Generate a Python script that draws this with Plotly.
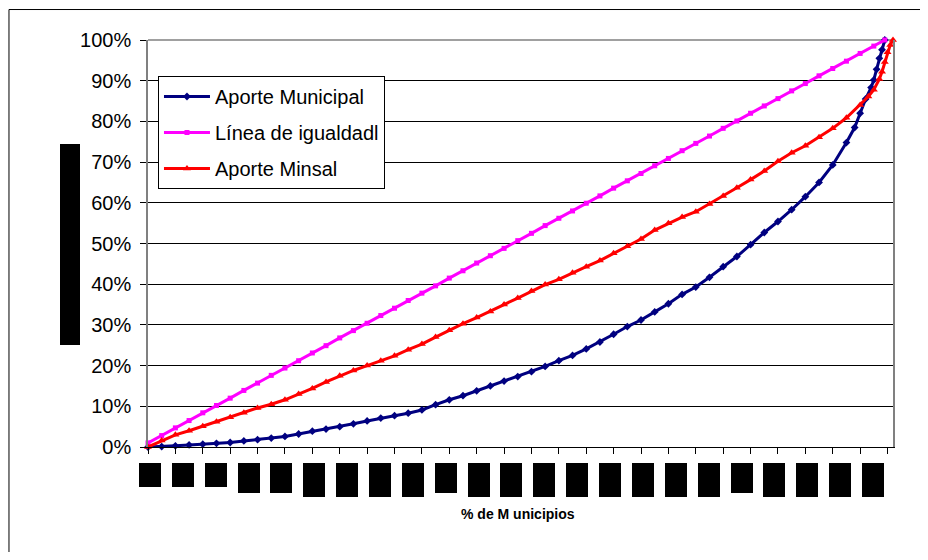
import plotly.graph_objects as go

# ---------------- data ----------------
# x = municipality index (category position), y = cumulative %
muni_x = list(range(0, 256, 5)) + [258, 260, 262, 264, 265, 266, 267, 268, 269]
muni_y = [0, 0.1, 0.3, 0.5, 0.7, 0.9, 1.1, 1.5, 1.8, 2.2, 2.6, 3.2, 3.9, 4.4, 5.0, 5.7,
          6.4, 7.1, 7.7, 8.3, 9.1, 10.4, 11.6, 12.6, 13.8, 15.0, 16.2, 17.3, 18.5, 19.8,
          21.2, 22.5, 24.1, 25.8, 27.7, 29.6, 31.2, 33.2, 35.2, 37.5, 39.3, 41.7, 44.3,
          46.8, 49.7, 52.7, 55.4, 58.3, 61.5, 65.0, 69.3, 74.8,
          78.5, 82.0, 85.5, 88.3, 90.2, 92.8, 95.5, 97.6, 100.0]

igual_x = list(range(0, 266, 5)) + [269]
igual_y = [1.0, 2.8, 4.7, 6.5, 8.4, 10.2, 12.0, 13.9, 15.7, 17.6, 19.4, 21.2, 23.1, 24.9,
           26.8, 28.6, 30.4, 32.3, 34.1, 36.0, 37.8, 39.6, 41.5, 43.3, 45.2, 47.0, 48.8,
           50.7, 52.5, 54.4, 56.2, 58.0, 59.9, 61.7, 63.6, 65.4, 67.2, 69.1, 70.9, 72.8,
           74.6, 76.4, 78.3, 80.1, 82.0, 83.8, 85.6, 87.5, 89.3, 91.2, 93.0, 94.8, 96.7,
           98.5, 100.0]

minsal_x = list(range(0, 261, 5)) + [263, 265, 267, 268, 269, 270, 271, 272]
minsal_y = [0, 1.6, 3.0, 4.0, 5.1, 6.2, 7.3, 8.4, 9.6, 10.5, 11.6, 13.0, 14.4, 16.0, 17.5,
            18.8, 20.0, 21.2, 22.4, 23.9, 25.3, 27.0, 28.7, 30.3, 31.8, 33.3, 35.0, 36.6,
            38.3, 39.9, 41.2, 42.8, 44.3, 45.8, 47.6, 49.3, 51.1, 53.3, 55.0, 56.5, 57.8,
            59.7, 61.7, 63.7, 65.7, 67.8, 70.2, 72.3, 74.0, 76.1, 78.3, 80.9, 84.0,
            86.1, 87.8, 90.4, 92.2, 94.6, 97.0, 98.8, 100.0]

series_names = ["Aporte Municipal", "Línea de igualdadl", "Aporte Minsal"]
y_ticks = [0, 10, 20, 30, 40, 50, 60, 70, 80, 90, 100]
y_ticktext = ["0%", "10%", "20%", "30%", "40%", "50%", "60%", "70%", "80%", "90%", "100%"]
x_ticks = list(range(0, 271, 10))
# redacted category labels (every 12 categories); heights of the black boxes
label_pos = list(range(0, 265, 12))
label_h = [24, 24, 24, 30, 30, 34, 34, 34, 34, 30, 34, 34, 34, 34, 34, 34, 34, 34, 30,
           34, 34, 34, 34]

FONT = "Arial, Liberation Sans, sans-serif"

fig = go.Figure()
fig.add_trace(go.Scatter(x=muni_x, y=muni_y, name=series_names[0], mode="lines+markers",
                         line=dict(color="#000080", width=3),
                         marker=dict(symbol="diamond", size=6, color="#000080"),
                         legendgroup="a", cliponaxis=False))
fig.add_trace(go.Scatter(x=igual_x, y=igual_y, name=series_names[1], mode="lines+markers",
                         line=dict(color="#FF00FF", width=3),
                         marker=dict(symbol="square", size=5, color="#FF00FF"),
                         legendgroup="b", cliponaxis=False))
fig.add_trace(go.Scatter(x=minsal_x, y=minsal_y, name=series_names[2], mode="lines+markers",
                         line=dict(color="#FF0000", width=3),
                         marker=dict(symbol="triangle-up", size=7, color="#FF0000"),
                         legendgroup="c", cliponaxis=False))

# black redaction boxes under the category axis
for p, h in zip(label_pos, label_h):
    fig.add_annotation(x=p + 0.7, xref="x", y=-0.0393, yref="paper", yanchor="top",
                       text=" ", showarrow=False, bgcolor="black", width=22, height=h,
                       borderpad=0, borderwidth=0)
# redacted y-axis title
fig.add_annotation(x=-0.118, xref="paper", y=0.4975, yref="paper", text=" ",
                   showarrow=False, bgcolor="black", width=20, height=201,
                   borderpad=0, borderwidth=0)
# x-axis title
fig.add_annotation(x=0.4966, xref="paper", y=-0.165, yref="paper", yanchor="middle",
                   text="<b>% de M unicipios</b>",
                   showarrow=False, font=dict(family=FONT, size=14, color="black"))

# outer chart frame and plot-area top border
fig.add_shape(type="rect", xref="paper", yref="paper", x0=-0.1866, x1=1.2, y0=-0.5,
              y1=1.0749, line=dict(color="black", width=1), layer="below")
fig.add_shape(type="line", xref="paper", yref="paper", x0=0, x1=1, y0=1, y1=1,
              line=dict(color="#808080", width=1.5), layer="below")

fig.update_layout(
    width=912, height=544,
    margin=dict(l=140, r=27, t=32, b=105),
    paper_bgcolor="white", plot_bgcolor="white",
    font=dict(family=FONT, size=20, color="black"),
    showlegend=True,
    legend=dict(x=0.0134, y=0.9115, xanchor="left", yanchor="top",
                bgcolor="white", bordercolor="black", borderwidth=1,
                font=dict(family=FONT, size=20, color="black"),
                traceorder="grouped", tracegroupgap=7, itemwidth=46),
)
fig.update_xaxes(range=[0, 272], tickvals=x_ticks, showticklabels=False,
                 ticks="outside", ticklen=6, tickcolor="black",
                 showline=True, linecolor="black", linewidth=1,
                 showgrid=False, zeroline=False)
fig.update_yaxes(range=[0, 100], tickvals=y_ticks, ticktext=y_ticktext,
                 ticks="outside", ticklen=6, tickcolor="black", ticklabelstandoff=5,
                 showline=True, linecolor="#808080", linewidth=1.5, mirror=True,
                 showgrid=True, gridcolor="black", gridwidth=1, zeroline=False,
                 tickfont=dict(family=FONT, size=20, color="black"))

fig.write_html("out.html")
